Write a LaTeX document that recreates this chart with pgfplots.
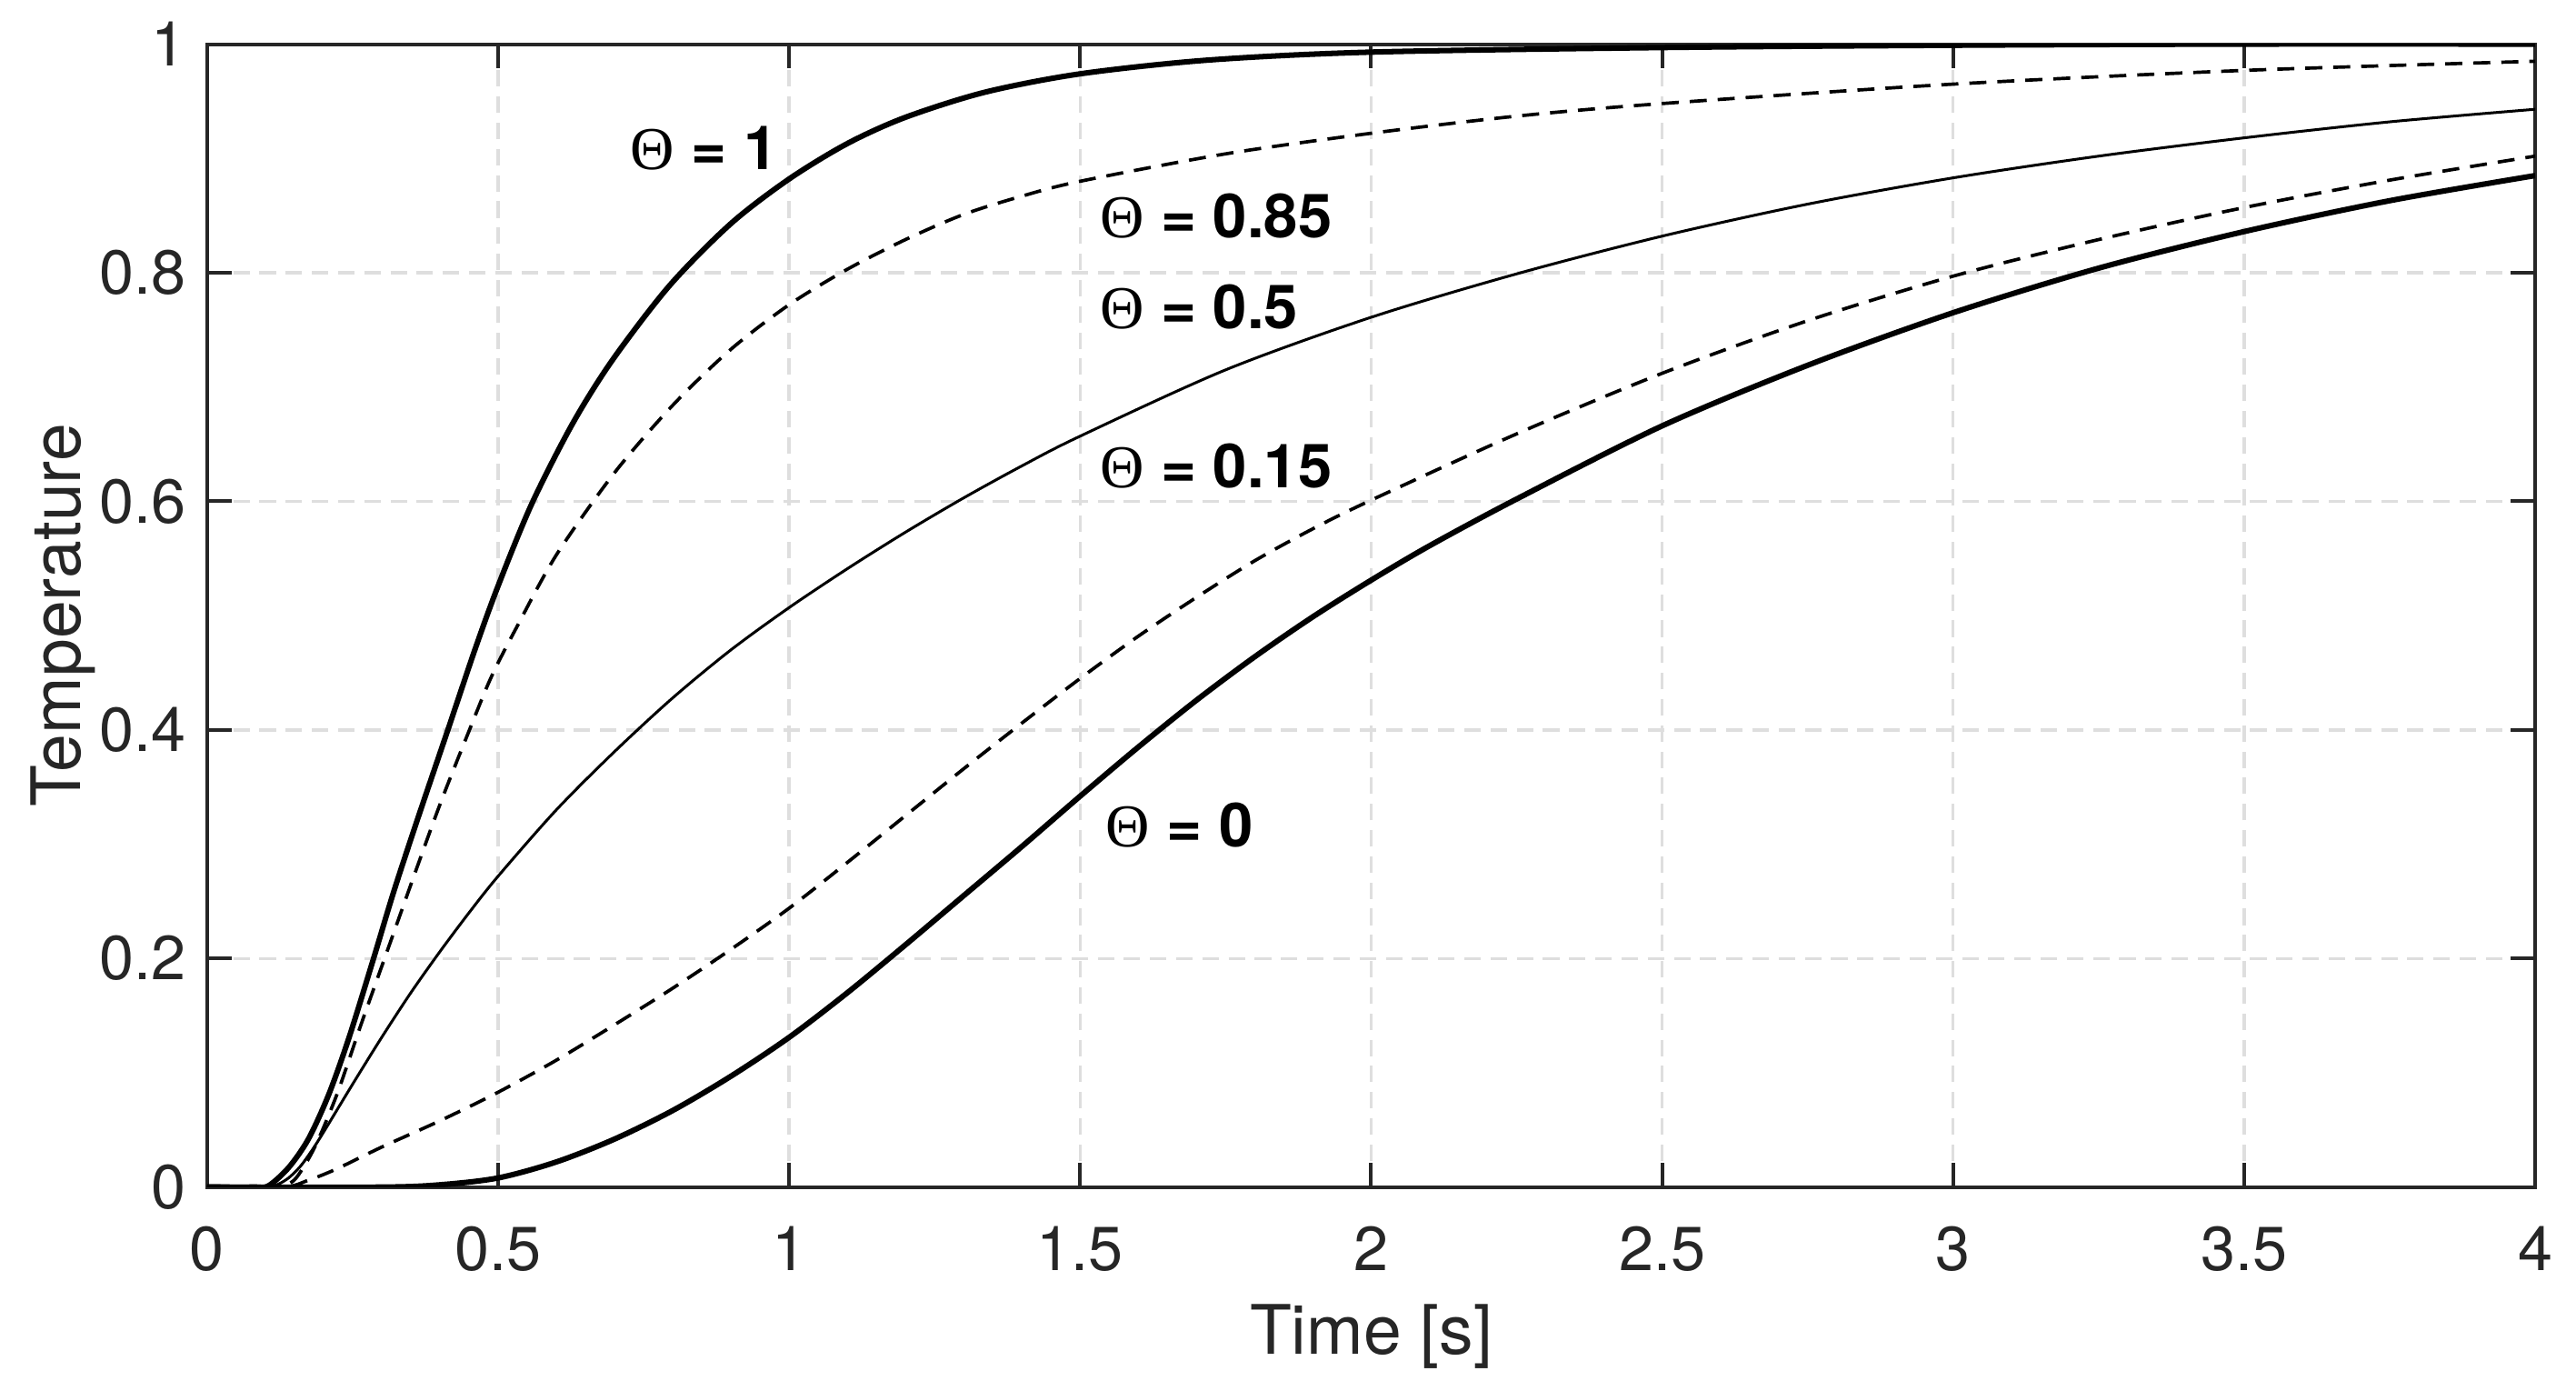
\documentclass[border=0pt]{standalone}
\usepackage{pgfplots}
\pgfplotsset{compat=1.18}
\usepackage{fontspec}
\setmainfont{TeX Gyre Heros}
\newfontfamily\thetafont{Liberation Serif}
\definecolor{axgray}{RGB}{38,38,38}
\definecolor{gridgray}{RGB}{222,222,222}
\begin{document}
\begin{tikzpicture}
\begin{axis}[
  scale only axis,
  width=382.2pt, height=187.6pt,
  xmin=0, xmax=4, ymin=0, ymax=1,
  xtick={0,0.5,1,1.5,2,2.5,3,3.5,4},
  ytick={0,0.2,0.4,0.6,0.8,1},
  tick align=inside,
  xtick pos=both, ytick pos=both,
  xticklabel pos=bottom, yticklabel pos=left,
  major tick length=4pt,
  tick style={color=axgray, line width=0.6pt},
  axis line style={color=axgray, line width=0.6pt},
  grid=major,
  major grid style={color=gridgray, line width=0.5pt, dash pattern=on 2.7pt off 1.6pt},
  /pgf/number format/assume math mode=true,
  ticklabel style={font=\fontsize{10.2}{12}\selectfont, text=axgray},
  xticklabel shift={3pt},
  xlabel={Time [s]},
  ylabel={Temperature},
  label style={font=\fontsize{11.2}{13}\selectfont, text=axgray},
  xlabel style={at={(axis description cs:0.5,-0.131)}, anchor=center},
  ylabel style={at={(axis description cs:-0.062,0.5)}, anchor=center, rotate=0},
]
% Theta = 1
\addplot[black, smooth, tension=0.5, line width=0.9pt] coordinates {
(0,0) (0.08,0) (0.105,0.001) (0.14,0.017) (0.174,0.042) (0.209,0.081) (0.244,0.131)
(0.286,0.2) (0.321,0.259) (0.363,0.324) (0.415,0.402) (0.46,0.470) (0.5,0.526)
(0.558,0.598) (0.628,0.668) (0.697,0.724) (0.795,0.789) (0.9,0.843) (1.0,0.882)
(1.1,0.913) (1.2,0.936) (1.337,0.958) (1.5,0.974) (1.719,0.986)
(2.0,0.993) (2.5,0.997) (3.0,0.999) (3.5,1.0) (4.0,1.0)};
% Theta = 0.85
\addplot[black, smooth, tension=0.5, line width=0.55pt, dash pattern=on 2.8pt off 1.8pt] coordinates {
(0,0) (0.1,0) (0.13,0.001) (0.153,0.008) (0.185,0.035) (0.223,0.081) (0.265,0.143)
(0.307,0.203) (0.363,0.283) (0.404,0.34) (0.45,0.399) (0.488,0.446) (0.53,0.488)
(0.6,0.553) (0.7,0.625) (0.8,0.684) (0.9,0.733) (1.0,0.772)
(1.1,0.803) (1.2,0.829) (1.3,0.851) (1.4,0.867) (1.5,0.880) (1.75,0.904)
(2.0,0.922) (2.25,0.937) (2.5,0.948) (3.0,0.965) (3.5,0.977) (4.0,0.985)};
% Theta = 0.5
\addplot[black, smooth, tension=0.5, line width=0.45pt] coordinates {
(0,0) (0.1,0) (0.12,0.002) (0.14,0.008) (0.16,0.018) (0.18,0.032) (0.2,0.048)
(0.25,0.090) (0.3,0.131) (0.35,0.170) (0.4,0.206) (0.45,0.240) (0.5,0.272)
(0.6,0.330) (0.7,0.381) (0.8,0.428) (0.9,0.470) (1.0,0.507) (1.1,0.541) (1.2,0.573)
(1.3,0.603) (1.4,0.631) (1.5,0.657) (1.75,0.715) (2.0,0.761) (2.25,0.799) (2.5,0.832)
(2.75,0.860) (3.0,0.883) (3.25,0.902) (3.5,0.918) (3.75,0.932) (4.0,0.943)};
% Theta = 0.15
\addplot[black, smooth, tension=0.5, line width=0.55pt, dash pattern=on 2.8pt off 1.8pt] coordinates {
(0,0) (0.13,0) (0.174,0.006) (0.223,0.016) (0.3,0.035) (0.4,0.058) (0.5,0.083)
(0.6,0.111) (0.7,0.142) (0.8,0.174) (0.9,0.208) (1.0,0.244) (1.1,0.284) (1.2,0.325)
(1.3,0.366) (1.4,0.406) (1.5,0.445) (1.6,0.482) (1.7,0.516) (1.8,0.548) (1.9,0.576)
(2.0,0.601) (2.25,0.659) (2.5,0.712) (2.75,0.758) (3.0,0.797) (3.25,0.829)
(3.5,0.857) (3.75,0.881) (4.0,0.902)};
% Theta = 0
\addplot[black, smooth, tension=0.5, line width=0.9pt] coordinates {
(0,0) (0.3,0) (0.4,0.002) (0.5,0.008) (0.6,0.022) (0.7,0.042) (0.8,0.067)
(0.9,0.097) (1.0,0.131) (1.1,0.170) (1.2,0.212) (1.3,0.255) (1.4,0.298)
(1.5,0.342) (1.6,0.385) (1.7,0.426) (1.8,0.464) (1.9,0.499) (2.0,0.531) (2.1,0.561)
(2.25,0.602) (2.5,0.666) (2.75,0.719) (3.0,0.765) (3.25,0.804) (3.5,0.836)
(3.75,0.863) (4.0,0.885)};
\node[anchor=west, inner sep=0pt, font=\fontsize{10}{12}\selectfont\bfseries] at (axis cs:0.725,0.909) {{\thetafont\mdseries Θ} = 1};
\node[anchor=west, inner sep=0pt, font=\fontsize{10}{12}\selectfont\bfseries] at (axis cs:1.532,0.85) {{\thetafont\mdseries Θ} = 0.85};
\node[anchor=west, inner sep=0pt, font=\fontsize{10}{12}\selectfont\bfseries] at (axis cs:1.532,0.77) {{\thetafont\mdseries Θ} = 0.5};
\node[anchor=west, inner sep=0pt, font=\fontsize{10}{12}\selectfont\bfseries] at (axis cs:1.532,0.631) {{\thetafont\mdseries Θ} = 0.15};
\node[anchor=west, inner sep=0pt, font=\fontsize{10}{12}\selectfont\bfseries] at (axis cs:1.542,0.3165) {{\thetafont\mdseries Θ} = 0};
\end{axis}
\path ([xshift=-34pt,yshift=-33.4pt]current axis.south west) rectangle ([xshift=6.7pt,yshift=7.24pt]current axis.north east);
\end{tikzpicture}
\end{document}
